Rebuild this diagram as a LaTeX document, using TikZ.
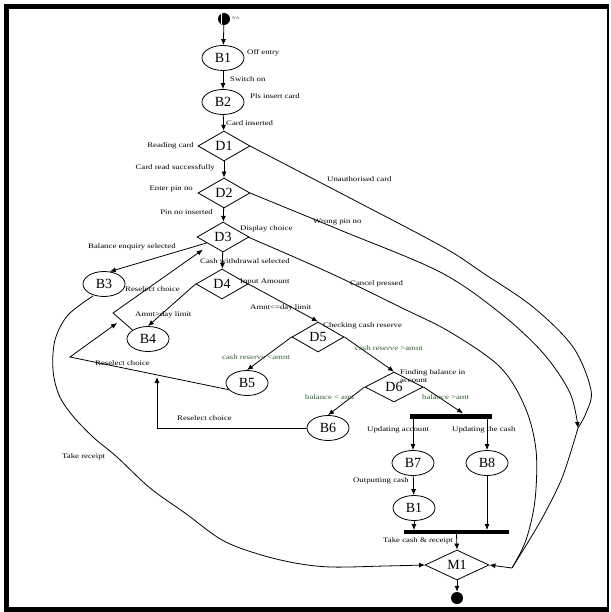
\documentclass[tikz,border=0pt]{standalone}
\usepackage{fontspec}
\setmainfont{Liberation Serif}
\newfontfamily\lblfont[FakeStretch=1.25]{Liberation Serif}
\usetikzlibrary{shapes.geometric,arrows.meta}
\definecolor{lblgreen}{RGB}{45,95,40}
\begin{document}
\begin{tikzpicture}[x=1pt,y=-1pt,
  state/.style={ellipse,draw,line width=0.8pt,minimum width=42pt,minimum height=25pt,inner sep=0pt,font=\fontsize{14}{14}\selectfont},
  choice/.style={diamond,draw,line width=0.8pt,minimum width=52pt,minimum height=30pt,inner sep=0pt,font=\fontsize{14}{14}\selectfont},
  lbl/.style={font=\lblfont\fontsize{7}{8}\selectfont,inner sep=0pt},
  glbl/.style={lbl,text=lblgreen},
  flow/.style={line width=0.8pt,-{Latex[length=6pt,width=5pt]}},
  conn/.style={line width=0.8pt},
  syncbar/.style={fill,inner sep=0pt,minimum height=5pt}
]
\useasboundingbox (0,0) rectangle (610,612);

% page frame
\fill (4,4) rectangle (609,9);
\fill (4,4) rectangle (9,612);
\fill (4,607) rectangle (609,612);
\fill (606.5,4) rectangle (608.5,612);

% initial and final states
\node[circle,fill,minimum size=12pt,inner sep=0pt] (start) at (224,19) {};
\draw[white,line width=0.7pt] (221.5,13.5) -- (221.5,24.5);
\node[glbl,anchor=west,font=\lblfont\fontsize{4}{4}\selectfont] (startlbl) at (232,18) {NA};
\node[circle,fill,minimum size=12pt,inner sep=0pt] (final) at (457,598) {};

% states and decisions
\node[state] (B1) at (223,58) {B1};
\node[state] (B2) at (223,102) {B2};
\node[choice] (D1) at (224,146) {D1};
\node[choice] (D2) at (224,193) {D2};
\node[choice] (D3) at (223,237) {D3};
\node[choice] (D4) at (222,284) {D4};
\node[state] (B3) at (104,284) {B3};
\node[state] (B4) at (148,339) {B4};
\node[choice] (D5) at (318,337) {D5};
\node[state] (B5) at (247,383) {B5};
\node[choice,minimum width=58pt] (D6) at (394,387) {D6};
\node[state] (B6) at (328,428) {B6};
\node[syncbar,minimum width=82pt] (fork) at (451,416) {};
\node[state] (B7) at (413,463) {B7};
\node[state] (B8) at (487,463) {B8};
\node[state] (B1b) at (414,508) {B1};
\node[syncbar,minimum width=105pt,minimum height=3.5pt] (join) at (456.5,532) {};
\node[choice,minimum width=64pt] (M1) at (457,565) {M1};

% main flow
\draw[flow] (start) -- (B1);
\draw[flow] (B1) -- (B2);
\draw[flow] (B2) -- (D1);
\draw[flow] (D1) -- (D2);
\draw[flow] (D2) -- (D3);
\draw[flow] (D3) -- (D4);
\draw[flow] (D3.200) -- (B3.65);
\draw[flow] (D4.west) -- (B4.north);
\draw[flow] (D4.east) -- (D5.north);
\draw[flow] (D5.west) -- (B5.north);
\draw[flow] (D5.east) -- (D6.north);
\draw[flow] (D6.west) -- (B6.north);
\draw[flow] (D6.east) -- ([xshift=12pt]fork.north);
\draw[flow] (B7 |- fork.south) -- (B7.north);
\draw[flow] (B8 |- fork.south) -- (B8.north);
\draw[flow] (B7) -- (B1b);
\draw[flow] (B1b) -- (B1b |- join.north);
\draw[flow] (B8) -- (B8 |- join.north);
\draw[flow] (join.south) -- (M1.north);
\draw[flow] (M1) -- (final);

% reselect loops
\coordinate (r4) at (113,313);
\coordinate (r4in) at (117,323);
\coordinate (r5) at (70,357);
\coordinate (r6) at (157,426);
\coordinate (r6in) at (157,377);
\draw[flow] (B4.150) -- (r4) -- ([xshift=-7pt,yshift=-5pt]D3.south west);
\draw[flow] (B5.200) -- (r5) -- (r4in);
\draw[flow] (B6.west) -- (B6.west -| r6) -- (r6in);

% take receipt
\draw[flow] plot[smooth,tension=0.55] coordinates {(93,296) (68,315) (55,340) (53,370) (59,395) (72,415) (93,437) (117,457) (150,488) (185,513) (222,540) (258,554) (295,563) (331,567) (385,566) (425,565)};

% abort paths
\coordinate (vmeet) at (578,428);
\coordinate (merge) at (512,568);
\draw[conn] plot[smooth,tension=0.55] coordinates {(250,146) (350,198) (443,247) (483,273) (533,307) (573,347) (591,390) (586,413) (578,428)};
\draw[flow] plot[smooth,tension=0.55] coordinates {(250,193) (340,230) (440,272) (500,313) (543,353) (570,393) (578,428)};
\draw[conn] plot[smooth,tension=0.5] coordinates {(578,428) (562,478) (540,522) (512,568)};
\draw[conn] plot[smooth,tension=0.55] coordinates {(248,237) (330,273) (400,307) (450,332) (500,367) (525,407) (536,450) (535,500) (526,540) (512,568)};
\draw[flow] (merge) -- (M1.east);

% labels
\node[lbl,anchor=west] at (247,53) {Off entry};
\node[lbl,anchor=west] at (230,79) {Switch on};
\node[lbl,anchor=west] at (250,96) {Pls insert card};
\node[lbl,anchor=west] at (226,123) {Card inserted};
\node[lbl,anchor=east] at (194,146) {Reading card};
\node[lbl,anchor=east] at (215,168) {Card read successfully};
\node[lbl,anchor=east] at (193,189) {Enter pin no};
\node[lbl,anchor=east] at (213,212) {Pin no inserted};
\node[lbl,anchor=west] at (240,229) {Display choice};
\node[lbl,anchor=west] at (88,247) {Balance enquiry selected};
\node[lbl,anchor=west] at (200,261) {Cash withdrawal selected};
\node[lbl,anchor=west] at (240,282) {Input Amount};
\node[lbl,anchor=west] at (125,289) {Reselect choice};
\node[lbl,anchor=west] at (135,315) {Amnt>day limit};
\node[lbl,anchor=west] at (250,308) {Amnt<=day limit};
\node[lbl,anchor=west] at (323,326) {Checking cash reserve};
\node[glbl,anchor=west] at (222,357) {cash reserve <amnt};
\node[glbl,anchor=west] at (355,348) {cash reserve >amnt};
\node[lbl,anchor=west] at (95,363) {Reselect choice};
\node[lbl,anchor=north west,align=left] at (400,369) {Finding balance in\\account};
\node[glbl,anchor=west] at (305,397) {balance < amt};
\node[glbl,anchor=west] at (422,397) {balance >amt};
\node[lbl,anchor=west] at (177,418) {Reselect choice};
\node[lbl,anchor=west] at (367,430) {Updating account};
\node[lbl,anchor=west] at (452,430) {Updating the cash};
\node[lbl,anchor=east] at (409,481) {Outputting cash};
\node[lbl,anchor=west] at (62,457) {Take receipt};
\node[lbl,anchor=west] at (383,541) {Take cash \& receipt};
\node[lbl,anchor=west] at (327,179) {Unauthorised card};
\node[lbl,anchor=west] at (313,222) {Wrong pin no};
\node[lbl,anchor=west] at (350,284) {Cancel pressed};
\end{tikzpicture}
\end{document}
